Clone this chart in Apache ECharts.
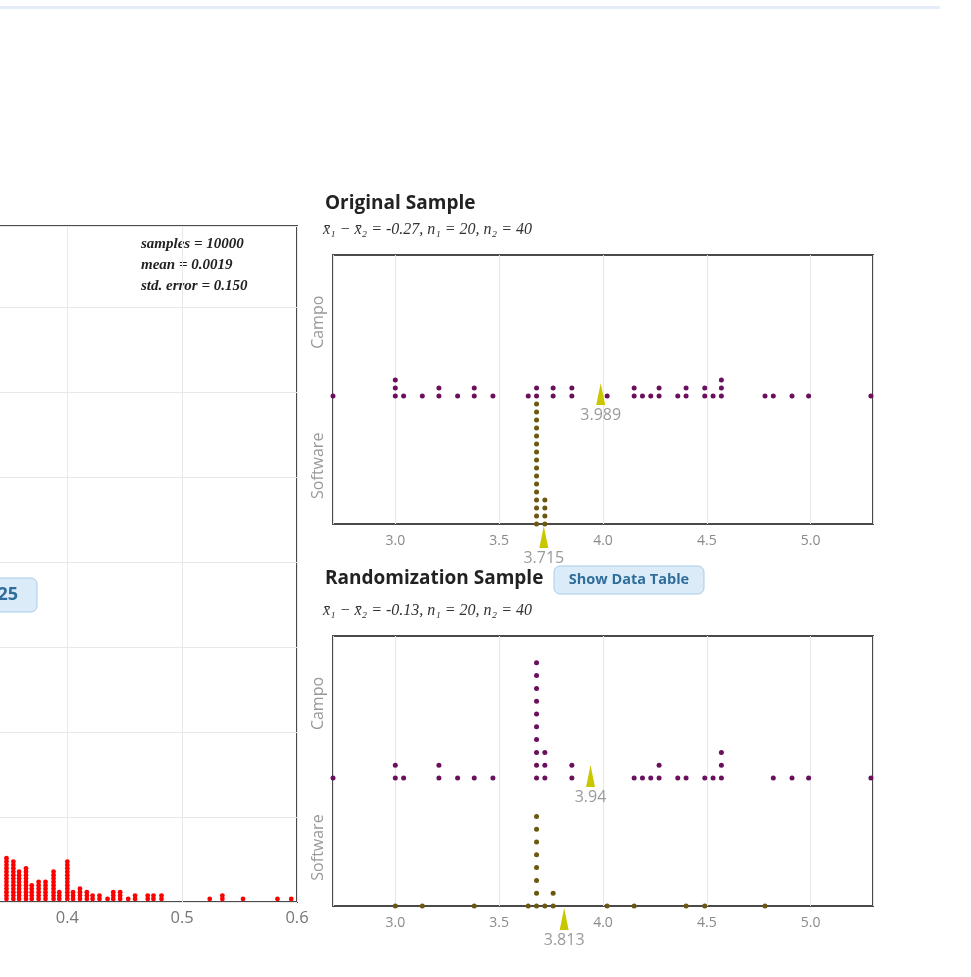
<!DOCTYPE html>
<html><head><meta charset="utf-8">
<script src="https://cdn.jsdelivr.net/npm/echarts@6/dist/echarts.min.js"></script>
<style>html,body{margin:0;padding:0;background:#fff}#c{width:971px;height:977px}</style>
</head><body><div id="c"></div>
<script>
// ---- Left panel: randomization distribution (visible part only) ----
const distX = [0.347,0.353,0.358,0.364,0.369,0.375,0.381,0.388,0.393,0.400,0.405,0.411,0.417,0.422,0.428,0.435,0.440,0.446,0.453,0.459,0.470,0.475,0.482,0.524,0.535,0.553,0.583,0.595];
const distCount = [13,12,9,10,5,6,6,9,3,12,3,4,3,2,2,1,3,3,1,2,2,2,2,1,2,1,1,1];
const distStats = ['samples = 10000', 'mean = 0.0019', 'std. error = 0.150'];

// ---- Dot plots ----
const groups = ['Software', 'Campo'];
const origSoftware = [3.68,3.68,3.68,3.68,3.68,3.68,3.68,3.68,3.68,3.68,3.68,3.68,3.68,3.68,3.68,3.68,3.72,3.72,3.72,3.72];
const origCampo = [2.70,3.00,3.00,3.00,3.04,3.13,3.21,3.21,3.30,3.38,3.38,3.47,3.64,3.68,3.68,3.76,3.76,3.85,3.85,
                   4.02,4.15,4.15,4.19,4.23,4.27,4.27,4.36,4.40,4.40,4.49,4.49,4.53,4.57,4.57,4.57,4.78,4.82,4.91,4.99,5.29];
const origMeans = [3.715, 3.989];   // Software, Campo
const origSubtitle = 'x\u0304\u2081 \u2212 x\u0304\u2082 = -0.27, n\u2081 = 20, n\u2082 = 40';

const randSoftware = [3.00,3.13,3.38,3.64,3.68,3.68,3.68,3.68,3.68,3.68,3.68,3.68,3.72,3.76,3.76,4.02,4.15,4.40,4.49,4.78];
const randCampo = [2.70,3.00,3.00,3.04,3.21,3.21,3.30,3.38,3.47,3.68,3.68,3.68,3.68,3.68,3.68,3.68,3.68,3.68,3.68,
                   3.72,3.72,3.72,3.85,3.85,4.15,4.19,4.23,4.27,4.27,4.36,4.40,4.49,4.53,4.57,4.57,4.57,4.82,4.91,4.99,5.29];
const randMeans = [3.813, 3.94];
const randSubtitle = 'x\u0304\u2081 \u2212 x\u0304\u2082 = -0.13, n\u2081 = 20, n\u2082 = 40';

const CAMPO_COLOR = '#6a0f5c';
const SOFT_COLOR = '#6b5710';
const MEAN_COLOR = '#c9c800';

function stackDots(values, base, pitch) {
  const counts = {}; const out = [];
  values.forEach(v => { const k = counts[v] || 0; counts[v] = k + 1; out.push([v, base + k * pitch]); });
  return out;
}
const distDots = [];
distX.forEach((x, i) => { for (let k = 0; k < distCount[i]; k++) distDots.push([x, k + 0.9]); });

const chart = echarts.init(document.getElementById('c'), null, {renderer: 'canvas'});
const gridBase = {show: true, borderColor: '#4a4a4a', borderWidth: 2, backgroundColor: 'transparent', outerBoundsMode: 'none', containLabel: false};
const campoBase = 128;
const panels = [
  {grid: 1, pitch: 8, h: 269, soft: origSoftware, campo: origCampo, means: origMeans},
  {grid: 2, pitch: 12.8, h: 270, soft: randSoftware, campo: randCampo, means: randMeans}
];

const xDot = (gi) => ({
  type: 'value', gridIndex: gi, min: 2.7, max: 5.3, splitNumber: 5,
  axisLine: {show: false}, axisTick: {show: false},
  axisLabel: {color: '#8a8a8a', fontSize: 14, margin: 10, fontFamily: 'Open Sans', showMinLabel: false, showMaxLabel: false,
              formatter: v => v.toFixed(1)},
  splitLine: {show: true, lineStyle: {color: '#e6e6e6', width: 1}}
});

const yAxes = [
  {type: 'value', gridIndex: 0, min: 0, max: 198.8, interval: 25, axisLine: {show: false}, axisTick: {show: false},
   axisLabel: {show: false}, splitLine: {show: true, lineStyle: {color: '#e8e8e8'}}}
];
panels.forEach(p => {
  yAxes.push({type: 'value', gridIndex: p.grid, min: 0, max: p.h, position: 'left', show: false, splitLine: {show: false}});
  yAxes.push({type: 'category', gridIndex: p.grid,
    data: [{value: groups[0], textStyle: {padding: [0, 18, 0, 0]}}, groups[1]], position: 'left',
    axisLine: {show: false}, axisTick: {show: false}, splitLine: {show: false},
    axisLabel: {rotate: 90, color: '#999', fontSize: 16, margin: 7, fontFamily: 'Open Sans'}});
});

const series = [
  {type: 'scatter', xAxisIndex: 0, yAxisIndex: 0, data: distDots, symbolSize: 4.8, clip: false,
   itemStyle: {color: '#ff0000', opacity: 1}, silent: true, animation: false}
];
panels.forEach((p, i) => {
  const yi = 1 + i * 2;
  series.push({type: 'scatter', xAxisIndex: p.grid, yAxisIndex: yi, data: stackDots(p.campo, campoBase, p.pitch),
    symbolSize: 5, clip: false, itemStyle: {color: CAMPO_COLOR, opacity: 1}, animation: false, z: 3});
  series.push({type: 'scatter', xAxisIndex: p.grid, yAxisIndex: yi, data: stackDots(p.soft, 0, p.pitch),
    symbolSize: 5, clip: false, itemStyle: {color: SOFT_COLOR, opacity: 1}, animation: false, z: 3});
  const lbl = {show: true, position: 'bottom', distance: 2, color: '#9a9a9a', fontSize: 16, fontFamily: 'Open Sans',
               formatter: d => String(d.value[0])};
  series.push({type: 'scatter', xAxisIndex: p.grid, yAxisIndex: yi, data: [[p.means[1], campoBase]],
    symbol: 'triangle', symbolSize: [9, 22], symbolOffset: [0, -2], clip: false, itemStyle: {color: MEAN_COLOR, opacity: 1},
    label: lbl, animation: false, z: 4});
  series.push({type: 'scatter', xAxisIndex: p.grid, yAxisIndex: yi, data: [[p.means[0], 0]],
    symbol: 'triangle', symbolSize: [9, 22], symbolOffset: [0, 13], clip: false, itemStyle: {color: MEAN_COLOR, opacity: 1},
    label: lbl, animation: false, z: 4});
});

const statStyle = {fill: '#222', font: 'italic bold 15px "Liberation Serif", "Times New Roman", serif', textVerticalAlign: 'middle'};
const subFont = 'italic 16px "Liberation Serif", "DejaVu Serif", serif';
const titleFont = 'bold 19px "Open Sans", sans-serif';
const graphics = [
  {type: 'rect', shape: {x: 0, y: 6, width: 940, height: 3}, style: {fill: '#e4edf7'}},
  {type: 'text', x: 141, y: 244, style: Object.assign({text: distStats[0]}, statStyle)},
  {type: 'text', x: 141, y: 265, style: Object.assign({text: distStats[1]}, statStyle)},
  {type: 'text', x: 141, y: 286, style: Object.assign({text: distStats[2]}, statStyle)},
  {type: 'rect', shape: {x: -60, y: 578, width: 97, height: 34, r: 6}, style: {fill: '#dcebf8', stroke: '#a9cbe8', lineWidth: 1}, z: 10},
  {type: 'text', x: 18, y: 595, style: {text: '25', fill: '#2f6e9c', font: 'bold 18px "Open Sans", sans-serif', textAlign: 'right', textVerticalAlign: 'middle'}, z: 11},
  {type: 'text', x: 325, y: 204, style: {text: 'Original Sample', fill: '#222', font: titleFont, textVerticalAlign: 'middle'}},
  {type: 'text', x: 323, y: 230, style: {text: origSubtitle, fill: '#333', font: subFont, textVerticalAlign: 'middle'}},
  {type: 'text', x: 325, y: 579, style: {text: 'Randomization Sample', fill: '#222', font: titleFont, textVerticalAlign: 'middle'}},
  {type: 'rect', shape: {x: 554, y: 566, width: 150, height: 28, r: 6}, style: {fill: '#dcebf8', stroke: '#a9cbe8', lineWidth: 1}},
  {type: 'text', x: 629, y: 580, style: {text: 'Show Data Table', fill: '#2f6e9c', font: 'bold 14.5px "Open Sans", sans-serif', textAlign: 'center', textVerticalAlign: 'middle'}},
  {type: 'text', x: 323, y: 611, style: {text: randSubtitle, fill: '#333', font: subFont, textVerticalAlign: 'middle'}}
];

chart.setOption({
  animation: false,
  backgroundColor: '#fff',
  grid: [
    Object.assign({left: -47.5, top: 226, width: 344.5, height: 676}, gridBase),
    Object.assign({left: 333, top: 255, width: 540, height: 269}, gridBase),
    Object.assign({left: 333, top: 636, width: 540, height: 270}, gridBase)
  ],
  xAxis: [
    {type: 'value', gridIndex: 0, min: 0.3, max: 0.6, interval: 0.1, axisLine: {show: false}, axisTick: {show: false},
     axisLabel: {color: '#777', fontSize: 16.5, margin: 8, fontFamily: 'Open Sans', formatter: v => v.toFixed(1)},
     splitLine: {show: true, lineStyle: {color: '#e8e8e8'}}},
    xDot(1), xDot(2)
  ],
  yAxis: yAxes,
  series: series,
  graphic: graphics
});
</script>
</body></html>
